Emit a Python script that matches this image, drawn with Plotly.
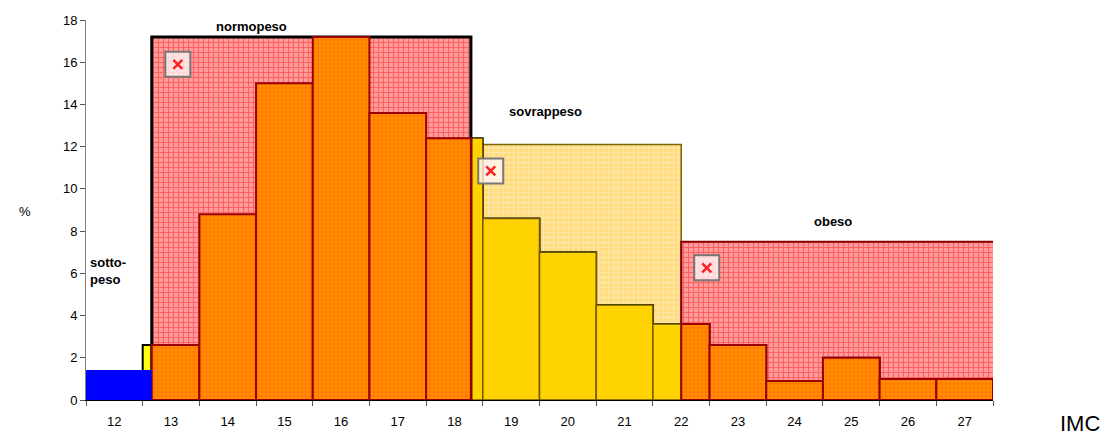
import plotly.graph_objects as go

# histogram of IMC classes (percent of subjects)
imc = list(range(12, 28))
perc = [1.2, 2.6, 8.8, 15.0, 17.2, 13.6, 12.4, 8.6, 7.0, 4.5, 3.6, 2.6, 0.9, 2.0, 1.0, 1.0]

# weight classes drawn as highlighted areas behind the bars
region_names = ["sotto-<br>peso", "normopeso", "sovrappeso", "obeso"]
region_lo = [11.43, 12.66, 18.2, 22.0]
region_hi = [12.66, 18.29, 22.0, 27.57]
region_top = [1.42, 17.2, 12.1, 7.5]

label_x = [11.54, 14.42, 19.6, 24.67]
label_y = [6.1, 17.68, 13.65, 8.44]

icon_x = [13.12, 18.64, 22.45]
icon_y = [15.9, 10.85, 6.26]

FONT = "Liberation Sans, Arial, sans-serif"

PINK = dict(shape="+", bgcolor="#FF9C9C", fgcolor="#FF2424", size=5, solidity=0.4)
ORANGE = dict(shape="+", bgcolor="#FF7800", fgcolor="#FFCC00", size=4, solidity=0.3)
LIGHT_GOLD = dict(shape="+", bgcolor="#FFDC80", fgcolor="#FFF4D4", size=5, solidity=0.35)
GOLD = dict(shape="+", bgcolor="#FFD000", fgcolor="#FFE400", size=4, solidity=0.25)


def region_bg(i, pattern, line_color, line_width, color=None):
    lo, hi, top = region_lo[i], region_hi[i], region_top[i]
    marker = dict(line=dict(color=line_color, width=line_width))
    if pattern:
        marker["pattern"] = pattern
        marker["color"] = pattern["bgcolor"]
    else:
        marker["color"] = color
    return go.Bar(x=[(lo + hi) / 2], y=[top], width=[hi - lo], marker=marker,
                  cliponaxis=False, hoverinfo="skip")


def region_bars(i, pattern, line_color, line_width):
    lo, hi = region_lo[i], region_hi[i]
    xs, ws, ys = [], [], []
    for c, v in zip(imc, perc):
        left = max(c - 0.5, lo)
        right = min(c + 0.5, hi)
        if right > left:
            xs.append((left + right) / 2)
            ws.append(right - left)
            ys.append(v)
    return go.Bar(x=xs, y=ys, width=ws,
                  marker=dict(color=pattern["bgcolor"], pattern=pattern,
                              line=dict(color=line_color, width=line_width)),
                  hoverinfo="skip")


fig = go.Figure()

fig.add_trace(region_bg(2, LIGHT_GOLD, "#7A6400", 1.5))
fig.add_trace(region_bg(3, PINK, "#8B0000", 2))

# original bars
fig.add_trace(go.Bar(x=imc, y=perc, width=1,
                     marker=dict(color="#FFFF00", line=dict(color="black", width=2)),
                     hoverinfo="skip"))

fig.add_trace(region_bars(2, GOLD, "#6E5A00", 1.5))
fig.add_trace(region_bars(3, ORANGE, "#9A0000", 2))
fig.add_trace(region_bg(1, PINK, "black", 3))
fig.add_trace(region_bars(1, ORANGE, "#9A0000", 2))
fig.add_trace(region_bg(0, None, "#0000FF", 0, color="#0000FF"))

# broken-image placeholders
fig.add_trace(go.Scatter(x=icon_x, y=icon_y, mode="markers",
                         marker=dict(symbol="square", size=25, color="rgba(255,245,245,0.8)",
                                     line=dict(color="#777777", width=2)),
                         hoverinfo="skip"))
fig.add_trace(go.Scatter(x=icon_x, y=icon_y, mode="markers",
                         marker=dict(symbol="x-thin", size=9, color="#FF2020",
                                     line=dict(color="#FF2020", width=2.5)),
                         hoverinfo="skip"))

for name, lx, ly in zip(region_names, label_x, label_y):
    fig.add_annotation(x=lx, y=ly, text=f"<b>{name}</b>", showarrow=False,
                       xanchor="left" if "<br>" in name else "center",
                       align="left", font=dict(family=FONT, size=13, color="black"))

fig.add_annotation(xref="paper", yref="paper", x=-0.076, y=0.497, text="%", showarrow=False,
                   font=dict(family=FONT, size=13, color="black"))
fig.add_annotation(xref="paper", yref="paper", x=1.12, y=-0.025, yanchor="top", text="IMC",
                   showarrow=False, font=dict(family=FONT, size=22, color="black"))

fig.update_layout(
    width=1111, height=434,
    margin=dict(l=78, r=126, t=12, b=42),
    barmode="overlay",
    showlegend=False,
    plot_bgcolor="white",
    paper_bgcolor="white",
    font=dict(family=FONT, size=13, color="black"),
)
fig.update_xaxes(range=[11.5, 27.5], tickvals=imc, ticks="", showgrid=False, zeroline=False,
                 showline=True, linecolor="black", linewidth=1, automargin=False,
                 ticklabelstandoff=9,
                 minor=dict(tick0=11.5, dtick=1, ticks="outside", ticklen=5, tickcolor="#555"),
                 tickfont=dict(size=13))
fig.update_yaxes(range=[0, 18], dtick=2, ticks="outside", ticklen=5, tickcolor="#555",
                 showgrid=False, zeroline=False, showline=True, linecolor="#808080",
                 linewidth=1, automargin=False, tickfont=dict(size=13))

fig.write_html("out.html")
